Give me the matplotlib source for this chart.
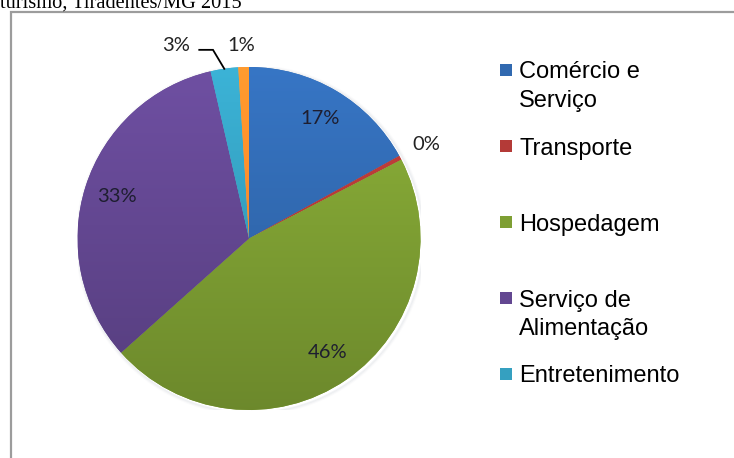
import numpy as np
import matplotlib
matplotlib.use("Agg")
import matplotlib.pyplot as plt
from matplotlib.patches import Rectangle
from matplotlib.colors import to_rgb

# data
categories = ["Comércio e\nServiço", "Transporte", "Hospedagem",
              "Serviço de\nAlimentação", "Entretenimento", "Outros"]
values = [17.0, 0.4, 46.0, 33.0, 2.6, 1.0]
colors = ["#3169b0", "#b43a37", "#7e9f33", "#634791", "#35a0c0", "#f68b2a"]
legend_count = 5  # the last slice is not in the (cut) legend
title = "turismo, Tiradentes/MG 2015"

W, H = 734, 458
fig = plt.figure(figsize=(W / 100, H / 100), dpi=100)


def fx(x):
    return x / W


def fy(y):
    return 1 - y / H


# caption cut off by the top of the image
fig.text(fx(0), fy(8), title, family="Liberation Serif", fontsize=14.7,
         va="baseline", ha="left", color="black")

# chart frame (runs off the right and bottom)
fig.add_artist(Rectangle((fx(11), fy(470)), fx(760) - fx(11), fy(12) - fy(470),
                         transform=fig.transFigure, fill=False,
                         edgecolor="#9c9c9c", lw=1.6))

cx, cy, r = 249, 238.5, 171.5
ax = fig.add_axes([fx(cx - r), fy(cy + r), 2 * r / W, 2 * r / H])
wedges, _ = ax.pie(values, colors=colors, startangle=90, counterclock=False,
                   radius=1, wedgeprops=dict(linewidth=0))
ax.set_xlim(-1, 1)
ax.set_ylim(-1, 1)
ax.set_aspect("equal")
ax.axis("off")

# Excel-like vertical shading inside each slice
grad = np.linspace(1.12, 0.86, 256)[:, None]
for w, c in zip(wedges, colors):
    base = np.array(to_rgb(c))
    img = np.clip(grad[:, :, None] * base[None, None, :], 0, 1)
    img = np.repeat(img, 2, axis=1)
    im = ax.imshow(img, extent=[-1, 1, -1, 1], origin="upper",
                   aspect="auto", zorder=w.get_zorder() + 0.1)
    im.set_clip_path(w)

# soft edge around the pie
for k, a in enumerate([0.10, 0.06, 0.03]):
    ax.add_patch(plt.Circle((0.01, -0.01), 1.0 + 0.006 * (k + 1), fill=False,
                            edgecolor="#8090a0", lw=1.2, alpha=a, zorder=0))

total = sum(values)
lab_font = dict(family="Lato", fontsize=14.5, ha="center", va="center")
for i, (w, v) in enumerate(zip(wedges, values)):
    ang = np.deg2rad((w.theta1 + w.theta2) / 2)
    txt = f"{v / total * 100:.0f}%"
    if v >= 10:
        d = 0.81
        ax.text(d * np.cos(ang), d * np.sin(ang), txt, color="#1e1e30",
                **lab_font)
    elif i == 1:
        d = 1.17
        ax.text(d * np.cos(ang), d * np.sin(ang), txt, color="#222222",
                clip_on=False, **lab_font)
    elif i == 4:
        ex, ey = np.cos(ang), np.sin(ang)
        ax.plot([-0.29, -0.21, ex], [1.10, 1.10, ey], color="black", lw=1.3,
                clip_on=False, solid_joinstyle="miter")
        ax.text(-0.425, 1.125, txt, color="#222222", clip_on=False, **lab_font)
    else:
        ax.text(-0.045, 1.125, txt, color="#222222", clip_on=False, **lab_font)

# legend (square beside the first line of each entry)
for i in range(legend_count):
    y0 = 70 + 76 * i
    fig.add_artist(Rectangle((fx(500), fy(y0 + 6)), 12 / W, 12 / H,
                             transform=fig.transFigure, facecolor=colors[i],
                             edgecolor="none"))
    for k, line in enumerate(categories[i].split("\n")):
        fig.text(fx(519), fy(y0 + 8.5 + 28 * k), line,
                 family="Liberation Sans", fontsize=17, va="baseline",
                 ha="left", color="black")

fig.savefig("out.png", dpi=100)
